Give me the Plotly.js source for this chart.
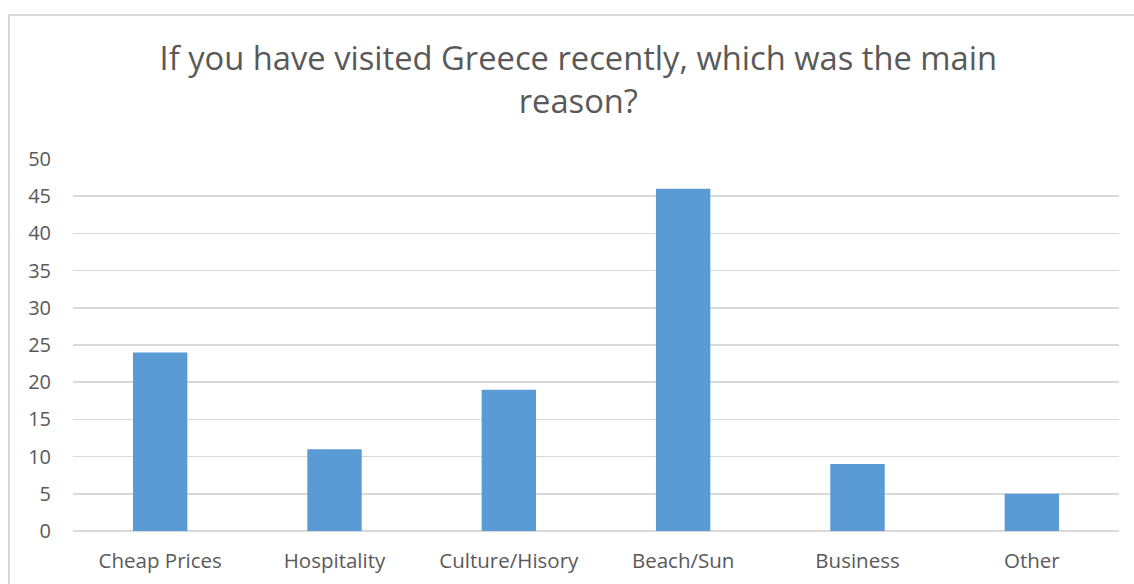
<!DOCTYPE html>
<html>
<head>
<meta charset="utf-8">
<script src="https://cdn.plot.ly/plotly-3.0.1.min.js"></script>
<style>
  html, body { margin: 0; padding: 0; background: #fff; }
  #wrap { position: relative; width: 1134px; height: 584px; overflow: hidden; }
  #chart { width: 1134px; height: 584px; }
  #frame { position: absolute; left: 8px; top: 14px; width: 1200px; height: 700px;
           border: 2px solid #d9d9d9; pointer-events: none; box-sizing: border-box; }
</style>
</head>
<body>
<div id="wrap">
  <div id="chart"></div>
  <div id="frame"></div>
</div>
<script>
const categories = ["Cheap Prices", "Hospitality", "Culture/Hisory", "Beach/Sun", "Business", "Other"];
const values = [24, 11, 19, 46, 9, 5];
const yTicks = [0, 5, 10, 15, 20, 25, 30, 35, 40, 45, 50];
const chartTitle = "If you have visited Greece recently, which was the main<br>reason?";

const textColor = "#595959";
const fontFamily = "'Open Sans', Lato, sans-serif";

const trace = {
  type: "bar",
  x: categories,
  y: values,
  marker: { color: "#5B9BD5" },
  hoverinfo: "x+y"
};

const layout = {
  width: 1134,
  height: 584,
  margin: { l: 73, r: 15, t: 159, b: 53 },
  paper_bgcolor: "#ffffff",
  plot_bgcolor: "#ffffff",
  showlegend: false,
  bargap: 0.688,
  font: { family: fontFamily, color: textColor, size: 18 },
  title: {
    text: chartTitle,
    font: { family: fontFamily, size: 32.7, color: textColor },
    xref: "container",
    x: 0.51,
    xanchor: "center",
    yref: "container",
    y: 1 - 70 / 584,
    yanchor: "top"
  },
  xaxis: {
    type: "category",
    showgrid: false,
    showline: false,
    zeroline: false,
    ticks: "",
    ticklabelstandoff: 15,
    tickfont: { family: fontFamily, size: 20.5, color: textColor }
  },
  yaxis: {
    range: [0, 50],
    tickvals: yTicks,
    ticktext: yTicks.map(String),
    showgrid: true,
    gridcolor: "#d9d9d9",
    gridwidth: 1.5,
    zeroline: true,
    zerolinecolor: "#d9d9d9",
    zerolinewidth: 1.5,
    showline: false,
    ticks: "",
    ticklabelstandoff: 21,
    tickfont: { family: fontFamily, size: 20, color: textColor }
  }
};

Plotly.newPlot("chart", [trace], layout, { displayModeBar: false, staticPlot: true });
</script>
</body>
</html>
